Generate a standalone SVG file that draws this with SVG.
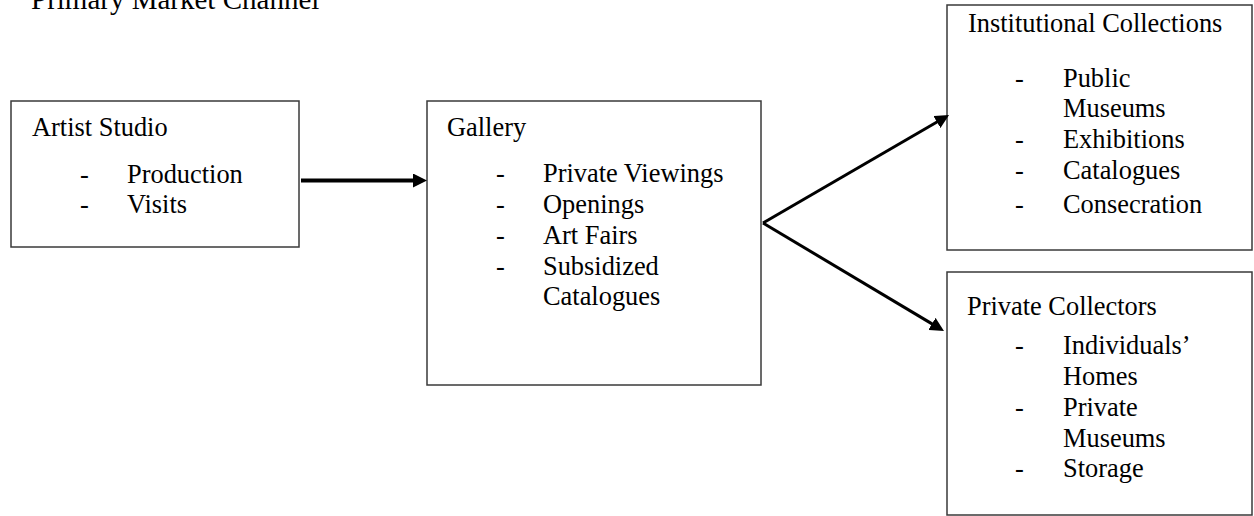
<svg xmlns="http://www.w3.org/2000/svg" width="1254" height="516" viewBox="0 0 1254 516">
<defs>
<style>
text{font-family:"Liberation Serif","Times New Roman",serif;font-size:26.4px;fill:#000}
.title{font-size:29px}
.box{fill:#fff;stroke:#3a3a3a;stroke-width:1.5}
.conn{fill:none;stroke:#000;stroke-width:3}
.thick{stroke-width:4}
</style>
<marker id="ah" viewBox="0 0 14 14" markerWidth="14" markerHeight="14" refX="4" refY="7" orient="auto" markerUnits="userSpaceOnUse">
<path d="M0,0 L14,7 L0,14 z" fill="#000"/>
</marker>
</defs>
<rect width="1254" height="516" fill="#fff"/>
<text class="title" x="31" y="9">Primary Market Channel</text>

<g id="artist-studio">
<rect class="box" x="11" y="101" width="288" height="146"/>
<text x="32" y="136">Artist Studio</text>
<text x="80" y="183">-</text><text x="127" y="183">Production</text>
<text x="80" y="213">-</text><text x="127" y="213">Visits</text>
</g>

<g id="gallery">
<rect class="box" x="427" y="101" width="334" height="284"/>
<text x="447" y="136">Gallery</text>
<text x="496" y="182">-</text><text x="543" y="182">Private Viewings</text>
<text x="496" y="213">-</text><text x="543" y="213">Openings</text>
<text x="496" y="244">-</text><text x="543" y="244">Art Fairs</text>
<text x="496" y="275">-</text><text x="543" y="275">Subsidized</text>
<text x="543" y="305">Catalogues</text>
</g>

<g id="institutional-collections">
<rect class="box" x="947" y="5" width="305" height="245"/>
<text x="968" y="32">Institutional Collections</text>
<text x="1015" y="87">-</text><text x="1063" y="87">Public</text>
<text x="1063" y="117">Museums</text>
<text x="1015" y="148">-</text><text x="1063" y="148">Exhibitions</text>
<text x="1015" y="179">-</text><text x="1063" y="179">Catalogues</text>
<text x="1015" y="213">-</text><text x="1063" y="213">Consecration</text>
</g>

<g id="private-collectors">
<rect class="box" x="947" y="272" width="305" height="243"/>
<text x="967" y="315">Private Collectors</text>
<text x="1015" y="354">-</text><text x="1063" y="354">Individuals’</text>
<text x="1063" y="385">Homes</text>
<text x="1015" y="416">-</text><text x="1063" y="416">Private</text>
<text x="1063" y="447">Museums</text>
<text x="1015" y="477">-</text><text x="1063" y="477">Storage</text>
</g>

<g id="connectors">
<path class="conn thick" d="M301,180.5 L417,180.5" marker-end="url(#ah)"/>
<path class="conn" d="M763,223 L940.4,120" marker-end="url(#ah)"/>
<path class="conn" d="M763,223 L935.4,325.9" marker-end="url(#ah)"/>
</g>
</svg>
